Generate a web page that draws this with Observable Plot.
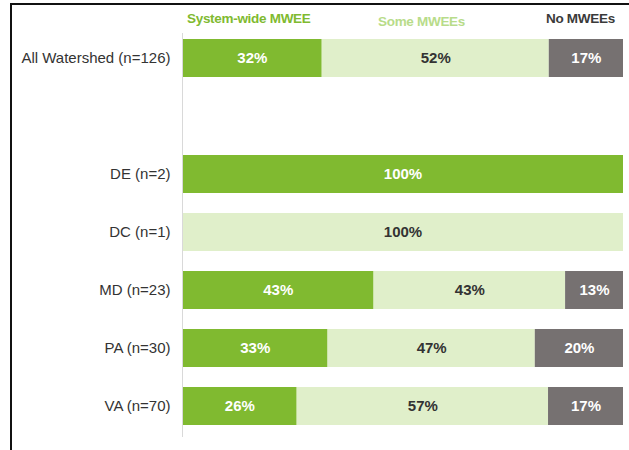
<!DOCTYPE html>
<html>
<head>
<meta charset="utf-8">
<script src="https://cdn.jsdelivr.net/npm/d3@7"></script>
<script src="https://cdn.jsdelivr.net/npm/@observablehq/plot@0.6"></script>
<style>
  html, body { margin: 0; padding: 0; background: #fff; }
  #wrap { position: relative; width: 629px; height: 450px; overflow: hidden; }
  #frame { position: absolute; left: 10px; top: 3px; width: 640px; height: 460px;
           border-top: 2px solid #111; border-left: 2px solid #111; box-sizing: border-box; }
  .leg { position: absolute; font-family: "Liberation Sans Narrow", "Liberation Sans", sans-serif;
         font-weight: bold; font-size: 13.5px; white-space: nowrap; letter-spacing: -0.3px; }
  #chart { position: absolute; left: 0; top: 0; }
</style>
</head>
<body>
<div id="wrap">
  <div id="frame"></div>
  <div id="chart"></div>
  <div class="leg" style="left:187px; top:11px; color:#80ba30;">System-wide MWEE</div>
  <div class="leg" style="left:378px; top:14px; color:#b8dc8a;">Some MWEEs</div>
  <div class="leg" style="left:546px; top:11px; color:#3a3a3a;">No MWEEs</div>
</div>
<script>
// Categories (rows), with a blank spacer row after the watershed total
const groups = ["All Watershed (n=126)", " ", "DE (n=2)", "DC (n=1)", "MD (n=23)", "PA (n=30)", "VA (n=70)"];
const series = ["System-wide MWEE", "Some MWEEs", "No MWEEs"];
const seriesColors = ["#80ba30", "#e0efca", "#767171"];
const labelColors = ["#ffffff", "#333333", "#ffffff"];

// Percent values per group, one array per series (null = no segment)
const systemWide = [32, null, 100, null, 43, 33, 26];
const someMWEEs  = [52, null, null, 100, 43, 47, 57];
const noMWEEs    = [17, null, null, null, 13, 20, 17];

const valuesBySeries = [systemWide, someMWEEs, noMWEEs];
const data = [];
groups.forEach((g, i) => {
  series.forEach((s, j) => {
    const v = valuesBySeries[j][i];
    if (v != null) data.push({group: g, cat: s, value: v});
  });
});

const chart = Plot.plot({
  width: 629,
  height: 450,
  marginLeft: 182,
  marginRight: 6,
  marginTop: 33,
  marginBottom: 13,
  style: {fontFamily: "'Liberation Sans Narrow', 'Liberation Sans', sans-serif", background: "transparent"},
  x: {domain: [0, 1], axis: null},
  y: {domain: groups, paddingInner: 0.342, paddingOuter: 0.124, align: 0.345, label: null},
  color: {domain: series, range: seriesColors},
  marks: [
    Plot.barX(data, Plot.stackX({
      x: "value", y: "group", z: "cat", fill: "cat", offset: "normalize"
    })),
    Plot.text(data, Plot.stackX({
      x: "value", y: "group", z: "cat", offset: "normalize",
      text: d => d.value + "%",
      fill: d => labelColors[series.indexOf(d.cat)],
      fontSize: 15, fontWeight: "bold",
      fontFamily: "'Liberation Sans', sans-serif"
    })),
    Plot.ruleX([0], {stroke: "#d9d9d9", strokeWidth: 1}),
    Plot.axisY({tickSize: 0, tickPadding: 12, fontSize: 15, color: "#333", label: null})
  ]
});
document.getElementById("chart").appendChild(chart);
</script>
</body>
</html>
